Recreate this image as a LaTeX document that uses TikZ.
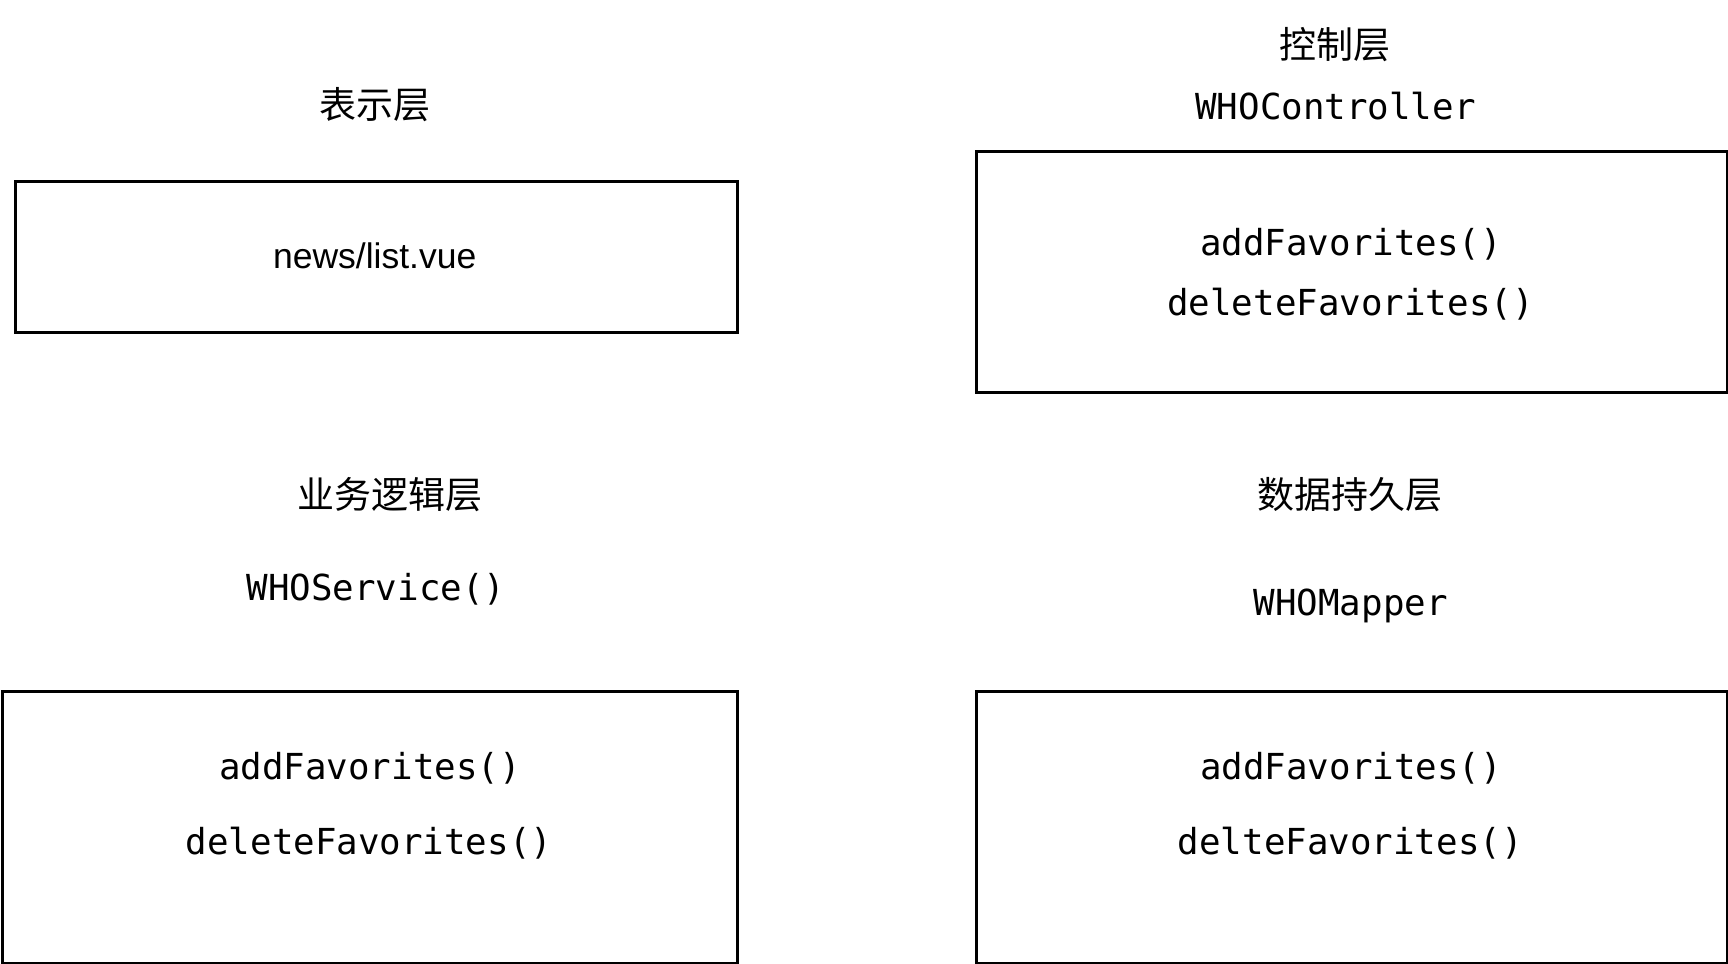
\documentclass[tikz,border=0pt]{standalone}
\usepackage{fontspec}
\setmainfont{Liberation Sans}
\newfontfamily\cjk{Noto Sans CJK SC}
\newfontfamily\monof{DejaVu Sans Mono}
\begin{document}
\begin{tikzpicture}[x=1pt,y=-1pt,
 box/.style={draw=black,line width=3pt,inner sep=0pt,anchor=north west},
 cn/.style={font=\cjk\fontsize{37}{44}\selectfont,inner sep=0pt},
 mn/.style={font=\monof\fontsize{35.8}{42}\selectfont,inner sep=0pt,anchor=base},
 sn/.style={font=\fontsize{35.5}{42}\selectfont,inner sep=0pt}]
\useasboundingbox (0,0) rectangle (1728,963);
% boxes
\node[box,minimum width=721.2pt,minimum height=150.5pt] (b1) at (14.3,180) {};
\node[box,minimum width=750.5pt,minimum height=240.5pt] (b2) at (975,150) {};
\node[box,minimum width=734.5pt,minimum height=272pt] (b3) at (1,689.5) {};
\node[box,minimum width=750.5pt,minimum height=272pt] (b4) at (975,689.5) {};
% presentation layer
\node[cn] (t1) at (374.7,105) {表示层};
\node[sn] (n1) at (374.7,256) {news/list.vue};
% controller layer
\node[cn] (t2) at (1335,45) {控制层};
\node[mn] (c0) at (1335.5,120) {WHOController};
\node[mn] (c1) at (1351,255) {addFavorites()};
\node[mn] (c2) at (1350.5,315) {deleteFavorites()};
% service layer
\node[cn] (t3) at (390,495) {业务逻辑层};
\node[mn] (s0) at (376,600.3) {WHOService()};
\node[mn] (s1) at (370,779.3) {addFavorites()};
\node[mn] (s2) at (369,854.7) {deleteFavorites()};
% persistence layer
\node[cn] (t4) at (1350,495) {数据持久层};
\node[mn] (m0) at (1350.7,615.3) {WHOMapper};
\node[mn] (m1) at (1351,779.3) {addFavorites()};
\node[mn] (m2) at (1350.3,854.7) {delteFavorites()};
\end{tikzpicture}
\end{document}
